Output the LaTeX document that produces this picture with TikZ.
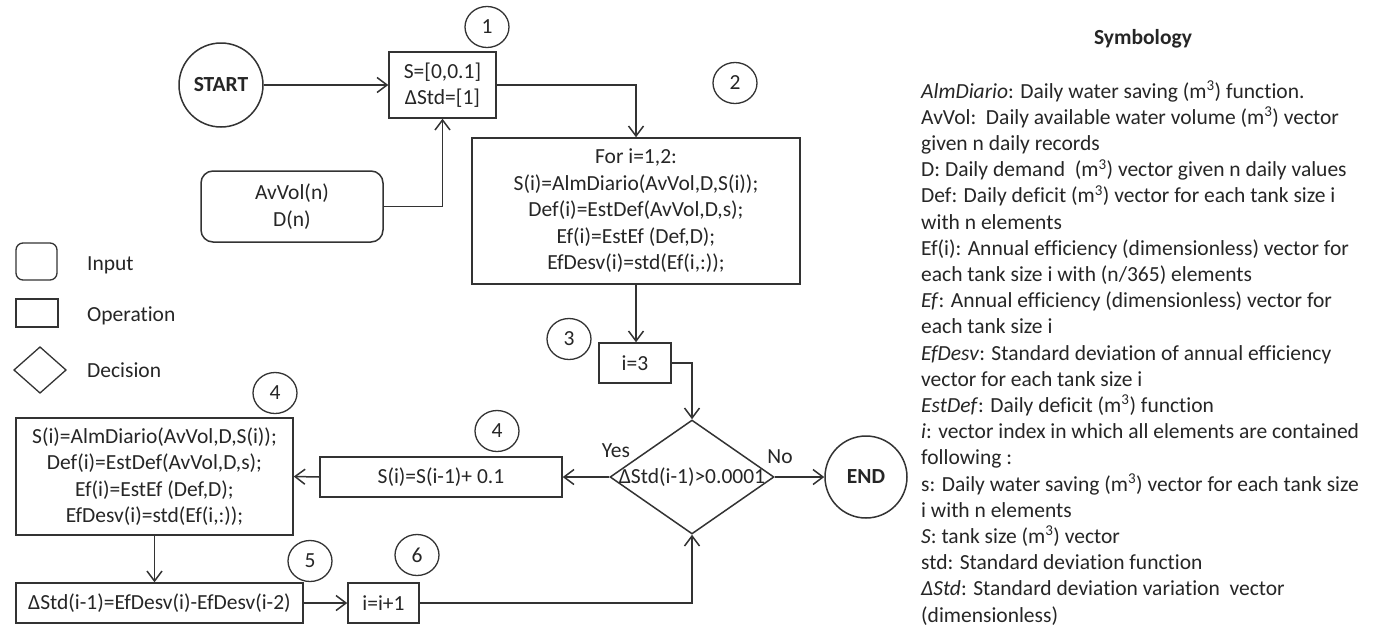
\documentclass[tikz,border=0pt]{standalone}
\usepackage{fontspec}
\setmainfont{Carlito}[Ligatures=NoCommon]
\usetikzlibrary{arrows.meta,shapes.geometric}
\definecolor{ink}{HTML}{262626}
\definecolor{edge}{HTML}{333333}

\begin{document}
\begin{tikzpicture}[x=1pt,y=-1pt,
  font=\fontsize{21.5}{26.5}\selectfont,
  every node/.style={text=ink},
  box/.style={draw=edge, line width=1.5pt, rectangle, inner sep=0pt, align=center},
  inbox/.style={box, rounded corners=12pt},
  term/.style={draw=edge, line width=1.5pt, circle, inner sep=0pt, font=\fontsize{21.5}{26.5}\selectfont\bfseries},
  stepno/.style={draw=edge, line width=1.3pt, ellipse, minimum width=44pt, minimum height=41pt, inner sep=0pt},
  decision/.style={draw=edge, line width=1.5pt, diamond, inner sep=0pt},
  link/.style={draw=edge, line width=1.5pt},
  flow/.style={link, -{Straight Barb[length=10pt,width=15pt]}},
  sym/.style={anchor=base west, inner sep=0pt},
]
\useasboundingbox[fill=white] (0,0) rectangle (1379,627);

% ---- flow chart nodes
\node[term, minimum size=84pt] (start) at (221,85) {START};
\node[box, minimum width=107pt, minimum height=66pt] (init) at (442.5,85) {S=[0,0.1]\\ΔStd=[1]};
\node[inbox, minimum width=182pt, minimum height=71pt] (input) at (292,206.5) {AvVol(n)\\D(n)};
\node[box, minimum width=328pt, minimum height=146pt] (loop) at (636,211)
  {For i=1,2:\\S(i)=AlmDiario(AvVol,D,S(i));\\Def(i)=EstDef(AvVol,D,s);\\Ef(i)=EstEf (Def,D);\\EfDesv(i)=std(Ef(i,:));};
\node[box, minimum width=72pt, minimum height=40pt] (ithree) at (635,363) {i=3};
\node[decision, minimum width=164pt, minimum height=114pt] (dec) at (692,477) {};
\node[inner sep=0pt] (dectext) at (dec.center) {ΔStd(i-1)>0.0001};
\node[term, minimum size=82pt] (end) at (866,477) {END};
\node[box, minimum width=242pt, minimum height=40pt] (next) at (441,477) {S(i)=S(i-1)+ 0.1};
\node[box, minimum width=277pt, minimum height=117pt] (calc) at (154.5,476.5)
  {S(i)=AlmDiario(AvVol,D,S(i));\\Def(i)=EstDef(AvVol,D,s);\\Ef(i)=EstEf (Def,D);\\EfDesv(i)=std(Ef(i,:));};
\node[box, minimum width=287pt, minimum height=40pt] (delta) at (159.5,603) {ΔStd(i-1)=EfDesv(i)-EfDesv(i-2)};
\node[box, minimum width=71pt, minimum height=40pt] (inc) at (383.5,603) {i=i+1};

% ---- step numbers
\node[stepno] (n1) at (487,27) {1};
\node[stepno] (n2) at (735,83) {2};
\node[stepno] (n3) at (569,339) {3};
\node[stepno] (n4a) at (275,393) {4};
\node[stepno] (n4b) at (497,431) {4};
\node[stepno] (n5) at (310,561) {5};
\node[stepno] (n6) at (417,555) {6};

% ---- branch labels
\node (yes) at (616,451) {Yes};
\node (no) at (780,457) {No};

% ---- connectors
\draw[flow] (start) -- (init);
\draw[flow] (input.east) -| (init.south);
\draw[flow] (init.east) -| (loop.north);
\draw[flow] (loop.south) -- (loop.south |- ithree.north);
\draw[flow] (ithree.east) -| (dec.north);
\draw[flow] (dec.west) -- (next.east);
\draw[flow] (dec.east) -- (end.west);
\draw[flow] (next.west) -- (calc.east);
\draw[flow] (calc.south) -- (calc.south |- delta.north);
\draw[flow] (delta.east) -- (inc.west);
\draw[flow] (inc.east) -| (dec.south);

% ---- shape key
\draw[link, line width=1.3pt, rounded corners=7pt] (16,243) rectangle (57,280);
\draw[link, line width=1.3pt] (16,299) rectangle (58,327);
\draw[link, line width=1.3pt] (14,370) -- (40,347) -- (66,370) -- (40,393) -- cycle;
\node[anchor=west, inner sep=0pt] (kin) at (87,265) {Input};
\node[anchor=west, inner sep=0pt] (kop) at (87,316) {Operation};
\node[anchor=west, inner sep=0pt] (kdec) at (87,370) {Decision};

% ---- symbology
\node[font=\fontsize{21.5}{26.5}\selectfont\bfseries] (symtitle) at (1143,39) {Symbology};
\node[sym] (l1) at (921,98.0) {\textit{AlmDiario}: Daily water saving (m\textsuperscript{3}) function.};
\node[sym] (l2) at (921,124.2) {AvVol:\ \ Daily available water volume (m\textsuperscript{3}) vector};
\node[sym] (l3) at (921,150.4) {given n daily records};
\node[sym] (l4) at (921,176.6) {D: Daily demand\ \ (m\textsuperscript{3}) vector\ given n daily values};
\node[sym] (l5) at (921,202.8) {Def: Daily deficit (m\textsuperscript{3}) vector\ for each tank size i};
\node[sym] (l6) at (921,229.0) {with n elements};
\node[sym] (l7) at (921,255.2) {Ef(i): Annual\ efficiency (dimensionless) vector for};
\node[sym] (l8) at (921,281.4) {each tank\ size i with (n/365) elements};
\node[sym] (l9) at (921,307.6) {\textit{Ef}: Annual\ efficiency (dimensionless) vector for};
\node[sym] (l10) at (921,333.8) {each tank\ size i};
\node[sym] (l11) at (921,360.0) {\textit{EfDesv}: Standard\ deviation of annual efficiency};
\node[sym] (l12) at (921,386.2) {vector\ for each tank size i};
\node[sym] (l13) at (921,412.4) {\textit{EstDef}: Daily deficit (m\textsuperscript{3}) function};
\node[sym] (l14) at (921,438.6) {\textit{i}: vector index in which all elements are contained};
\node[sym] (l15) at (921,464.8) {following :};
\node[sym] (l16) at (921,491.0) {s: Daily water saving (m\textsuperscript{3}) vector for\ each tank size};
\node[sym] (l17) at (921,517.2) {i with\ n elements};
\node[sym] (l18) at (921,543.4) {\textit{S}: tank size (m\textsuperscript{3}) vector};
\node[sym] (l19) at (921,569.6) {std: Standard deviation function};
\node[sym] (l20) at (921,595.8) {\textit{ΔStd}: Standard\ deviation variation\ \ vector};
\node[sym] (l21) at (921,622.0) {(dimensionless)};
\end{tikzpicture}
\end{document}
